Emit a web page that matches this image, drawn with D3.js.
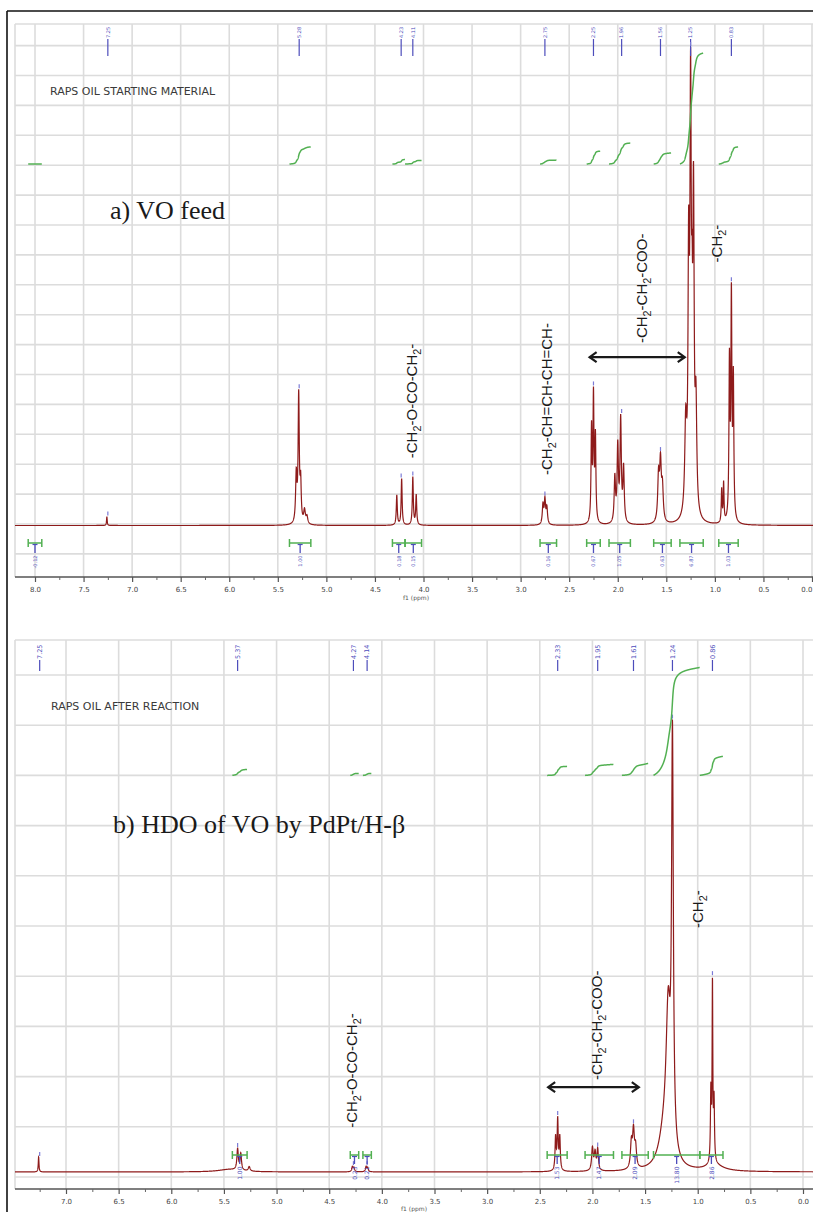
<!DOCTYPE html>
<html><head><meta charset="utf-8">
<script src="https://cdn.jsdelivr.net/npm/d3@7/dist/d3.min.js"></script>
<style>html,body{margin:0;padding:0;background:#fff;}svg{display:block;}</style>
</head><body>
<svg id="chart" width="813" height="1212"></svg>
<script>
// ---------------- data ----------------
const ticksA = [8.0,7.5,7.0,6.5,6.0,5.5,5.0,4.5,4.0,3.5,3.0,2.5,2.0,1.5,1.0,0.5,0.0];
const minorA = [7.75,7.25,6.75,6.25,5.75,5.25,4.75,4.25,3.75,3.25,2.75,2.25,1.75,1.25,0.75,0.25];
const ticksB = [7.0,6.5,6.0,5.5,5.0,4.5,4.0,3.5,3.0,2.5,2.0,1.5,1.0,0.5,0.0];
const minorB = [7.25,6.75,6.25,5.75,5.25,4.75,4.25,3.75,3.25,2.75,2.25,1.75,1.25,0.75,0.25];

// peaks: [ppm, height, half-width(ppm)]
const peaksA = [
 [7.26,0.30,0.004],
 [5.31,1.6,0.008],[5.285,4.25,0.007],[5.265,1.3,0.007],[5.225,0.45,0.01],[5.20,0.25,0.01],
 [4.275,1.0,0.006],[4.225,1.55,0.006],[4.11,1.6,0.006],[4.075,1.0,0.006],
 [2.77,0.65,0.008],[2.75,0.8,0.008],[2.73,0.55,0.008],
 [2.27,3.1,0.006],[2.25,4.15,0.006],[2.23,2.8,0.006],
 [2.03,1.5,0.008],[2.00,2.5,0.008],[1.97,3.4,0.008],[1.94,1.8,0.008],
 [1.58,1.5,0.01],[1.56,1.9,0.01],[1.54,1.1,0.01],
 [1.30,3.0,0.012],[1.27,8.0,0.008],[1.25,13.4,0.008],[1.235,4.0,0.006],[1.22,10.0,0.008],[1.195,3.5,0.01],
 [0.93,1.1,0.005],[0.91,1.3,0.005],
 [0.85,5.2,0.006],[0.83,7.3,0.006],[0.81,4.6,0.006]
];
const peaksB = [
 [7.26,0.30,0.004],
 [5.45,0.05,0.12],[5.37,0.42,0.008],[5.34,0.33,0.008],[5.26,0.09,0.01],
 [4.28,0.10,0.007],[4.265,0.08,0.007],[4.15,0.10,0.007],[4.135,0.08,0.007],
 [2.35,0.65,0.006],[2.33,1.0,0.006],[2.31,0.65,0.006],
 [2.00,0.45,0.009],[1.975,0.35,0.009],[1.95,0.42,0.008],
 [1.63,0.5,0.01],[1.61,0.72,0.01],[1.59,0.4,0.01],
 [1.32,0.6,0.06],[1.28,2.8,0.025],[1.24,8.0,0.01],
 [0.875,1.4,0.005],[0.86,3.5,0.004],[0.845,1.2,0.005],[0.84,0.12,0.1]
];

const peakLabelsA = ["7.25","5.28","4.23","4.11","2.75","2.25","1.96","1.56","1.25","0.83"];
const peakLabelsB = ["7.25","5.37","4.27","4.14","2.33","1.95","1.61","1.24","0.86"];

const intRangesA = [[8.07,7.93],[5.38,5.16],[4.32,4.19],[4.19,4.02],[2.80,2.63],[2.32,2.18],[2.09,1.87],[1.63,1.45],[1.36,1.12],[0.96,0.76]];
const intRisesA  = [0,0.57,0.15,0.12,0.13,0.43,0.70,0.37,3.71,0.57];
const intValuesA = ["-0.12","1.00","0.18","0.15","0.16","0.67","1.05","0.63","6.87","1.03"];

const intRangesB = [[5.42,5.28],[4.30,4.22],[4.18,4.10],[2.43,2.24],[2.07,1.80],[1.72,1.47],[1.42,0.98],[0.98,0.76]];
const intRisesB  = [0.12,0.04,0.04,0.18,0.22,0.24,2.15,0.38];
const intValuesB = ["1.00","0.23","0.21","1.53","1.47","2.09","13.80","2.86"];

const annotA = [["-CH_2-O-CO-CH_2-",4.07,2.2],["-CH_2-CH=CH-CH=CH-",2.68,1.64],["-CH_2-CH_2-COO-",1.70,6.05],["-CH_2-",0.93,8.75]];
const annotB = [["-CH_2-O-CO-CH_2-",4.24,0.98],["-CH_2-CH_2-COO-",1.91,1.93],["-CH_2-",0.95,4.96]];
const arrowA = [2.30,1.30,5.58];
const arrowB = [2.43,1.55,1.79];

// ---------------- drawing ----------------
const svg = d3.select("#chart");
const defs = svg.append("defs");
const BLUE = "#4d4dbb", GREEN = "#52b052", RED = "#8e1b1b", GRID = "#dcdcdc";

svg.append("line").attr("x1",7).attr("x2",7).attr("y1",11).attr("y2",1212).attr("stroke","#111").attr("stroke-width",1.6);
svg.append("line").attr("x1",7).attr("x2",813).attr("y1",11).attr("y2",11).attr("stroke","#111").attr("stroke-width",1.6);

function richText(sel, str, fs){
  const parts = str.split(/_(\d)/);
  let pend = 0;
  parts.forEach((s,i)=>{
    if(!s) return;
    const t = sel.append("tspan").text(s);
    if(i%2===1){ t.attr("font-size",fs*0.72).attr("dy",fs*0.3+pend); pend=-fs*0.3; }
    else { if(pend) t.attr("dy",pend); pend=0; }
  });
}

function drawPanel(P){
  const g = svg.append("g");
  const clipId = "clip"+P.id;
  defs.append("clipPath").attr("id",clipId).append("rect")
    .attr("x",P.left).attr("y",P.top).attr("width",P.right-P.left).attr("height",P.axisY-P.top);
  const x = P.x, y = P.y;
  // grid
  g.selectAll(null).data(P.ticks).join("line")
    .attr("x1",d=>x(d)).attr("x2",d=>x(d)).attr("y1",P.top).attr("y2",P.axisY)
    .attr("stroke",GRID).attr("stroke-width",1.6);
  g.selectAll(null).data(P.hGrid).join("line")
    .attr("x1",P.left).attr("x2",P.right).attr("y1",d=>y(d)).attr("y2",d=>y(d))
    .attr("stroke",GRID).attr("stroke-width",1.6);
  g.append("line").attr("x1",P.left).attr("x2",P.left).attr("y1",P.top).attr("y2",P.axisY).attr("stroke",GRID).attr("stroke-width",1.6);
  g.append("line").attr("x1",P.left).attr("x2",P.right).attr("y1",P.top).attr("y2",P.top).attr("stroke",GRID).attr("stroke-width",1.6);

  // axis
  g.append("line").attr("x1",P.left).attr("x2",P.right).attr("y1",P.axisY).attr("y2",P.axisY).attr("stroke","#555").attr("stroke-width",1.5);
  const ax = g.append("g").attr("transform",`translate(0,${P.axisY})`)
    .call(d3.axisBottom(x).tickValues(P.ticks).tickFormat(d3.format(".1f")).tickSize(5).tickSizeOuter(0).tickPadding(5));
  ax.select(".domain").remove();
  ax.selectAll("line").attr("stroke","#555").attr("stroke-width",1.2);
  ax.selectAll("text").attr("font-family","DejaVu Sans").attr("font-size",7).attr("fill","#444")
    .attr("text-anchor", d => (x(d) > P.right-6 ? "end" : "middle"))
    .attr("dx", d => (x(d) > P.right-6 ? (P.right - 1 - x(d)) : 0));
  const mx = g.append("g").attr("transform",`translate(0,${P.axisY})`)
    .call(d3.axisBottom(x).tickValues(P.minor).tickFormat("").tickSize(3).tickSizeOuter(0));
  mx.select(".domain").remove();
  mx.selectAll("line").attr("stroke","#666");
  g.append("text").attr("x",P.f1x).attr("y",P.f1y).attr("text-anchor","middle")
    .attr("font-family","DejaVu Sans").attr("font-size",6).attr("fill","#555").text("f1 (ppm)");

  // title
  g.append("text").attr("x",P.titleX).attr("y",P.titleY).attr("font-family","DejaVu Sans")
    .attr("font-size",11).attr("fill","#3a3a3a").text(P.title);

  // spectrum
  const f = p => P.offset + d3.sum(P.peaks, ([c,h,w]) => h*w*w/((p-c)*(p-c)+w*w));
  const dom = [x.invert(P.left), x.invert(P.right)];
  const pts = d3.range(dom[0], dom[1], -0.001).map(p=>[p,f(p)]);
  g.append("path").datum(pts).attr("clip-path",`url(#${clipId})`)
    .attr("d", d3.line().x(d=>x(d[0])).y(d=>y(d[1])))
    .attr("fill","none").attr("stroke",RED).attr("stroke-width",1.2);

  // peak labels on top + apex marks
  P.peakLabels.forEach(s=>{
    const p = +s, xx = x(p);
    g.append("line").attr("x1",xx).attr("x2",xx).attr("y1",P.plTop).attr("y2",P.plBot).attr("stroke",BLUE).attr("stroke-width",1.2);
    g.append("text").attr("transform",`translate(${xx+P.plFs*0.36},${P.plTop-1}) rotate(-90)`)
      .attr("font-family","DejaVu Sans").attr("font-size",P.plFs).attr("fill",BLUE).text(s);
    const mxv = d3.max(d3.range(p+0.012,p-0.012,-0.001), f);
    const ay = y(mxv);
    g.append("line").attr("x1",xx).attr("x2",xx).attr("y1",ay-5).attr("y2",ay-1).attr("stroke","#7b7bd6").attr("stroke-width",1.2);
  });

  // integrals
  P.intRanges.forEach(([p1,p2],i)=>{
    const ps = d3.range(p1,p2,-0.001);
    let cum = 0;
    const vals = ps.map(p=>{cum += f(p)-P.offset; return cum;});
    const tot = cum || 1;
    const rise = P.intRises[i];
    g.append("path").datum(ps.map((p,j)=>[x(p), y(P.intBase + rise*vals[j]/tot)]))
      .attr("d", d3.line()).attr("fill","none").attr("stroke",GREEN).attr("stroke-width",1.5);
    const xa = x(p1), xb = x(p2), xm = (xa+xb)/2, by = P.barY;
    g.append("line").attr("x1",xa).attr("x2",xb).attr("y1",by).attr("y2",by).attr("stroke",GREEN).attr("stroke-width",1.5);
    [xa,xb].forEach(xc=>g.append("line").attr("x1",xc).attr("x2",xc).attr("y1",by-4).attr("y2",by+4).attr("stroke",GREEN).attr("stroke-width",1.5));
    g.append("line").attr("x1",xm-2.5).attr("x2",xm+2.5).attr("y1",by+1.5).attr("y2",by+1.5).attr("stroke",BLUE).attr("stroke-width",1.2);
    g.append("line").attr("x1",xm).attr("x2",xm).attr("y1",by+1.5).attr("y2",by+P.stem).attr("stroke",BLUE).attr("stroke-width",1.3);
    g.append("text").attr("transform",`translate(${xm+P.ilFs*0.36},${by+P.stem+2.5}) rotate(-90)`)
      .attr("text-anchor","end").attr("font-family","DejaVu Sans").attr("font-size",P.ilFs).attr("fill",BLUE).text(P.intValues[i]);
  });

  // annotations
  P.annot.forEach(([s,p,v])=>{
    const t = g.append("text").attr("transform",`translate(${x(p)},${y(v)}) rotate(-90)`)
      .attr("font-family","Liberation Sans").attr("font-size",15).attr("fill","#1a1a1a");
    richText(t, s, 15);
  });
  const [a1,a2,av] = P.arrow;
  const ax1 = x(a1), ax2 = x(a2), ay = y(av);
  const ag = g.append("g").attr("stroke","#1a1a1a").attr("stroke-width",2.2).attr("fill","none");
  ag.append("line").attr("x1",ax1+1).attr("x2",ax2-1).attr("y1",ay).attr("y2",ay);
  ag.append("polyline").attr("points",`${ax1+8},${ay-5} ${ax1+1},${ay} ${ax1+8},${ay+5}`);
  ag.append("polyline").attr("points",`${ax2-8},${ay-5} ${ax2-1},${ay} ${ax2-8},${ay+5}`);

  g.append("text").attr("x",P.capX).attr("y",P.capY).attr("font-family","Liberation Serif")
    .attr("font-size",26).attr("fill","#1a1a1a").text(P.caption);
}

const yA = d3.scaleLinear().domain([0,16]).range([524,45.6]);
const yB = d3.scaleLinear().domain([0,10]).range([1177,675]);

drawPanel({
  id:"A", x:d3.scaleLinear().domain([8.0,0.0]).range([35,812]), y:yA,
  left:15, right:813, top:24, axisY:577,
  ticks:ticksA, minor:minorA, hGrid:d3.range(-1,17),
  peaks:peaksA, offset:-0.05,
  peakLabels:peakLabelsA, plTop:39, plBot:56, plFs:5,
  intRanges:intRangesA, intRises:intRisesA, intValues:intValuesA, intBase:12.04,
  barY:543, stem:10, ilFs:5,
  annot:annotA, arrow:arrowA,
  title:"RAPS OIL STARTING MATERIAL", titleX:50, titleY:95,
  caption:"a) VO feed", capX:110, capY:219,
  f1x:416, f1y:600
});
drawPanel({
  id:"B", x:d3.scaleLinear().domain([7.0,0.0]).range([66,803]), y:yB,
  left:15, right:813, top:640, axisY:1189,
  ticks:ticksB, minor:minorB, hGrid:d3.range(0,11),
  peaks:peaksB, offset:0.1,
  peakLabels:peakLabelsB, plTop:660, plBot:671, plFs:6.5,
  intRanges:intRangesB, intRises:intRisesB, intValues:intValuesB, intBase:8.0,
  barY:1155, stem:9, ilFs:6,
  annot:annotB, arrow:arrowB,
  title:"RAPS OIL AFTER REACTION", titleX:51, titleY:710,
  caption:"b) HDO of VO by PdPt/H-β", capX:113, capY:833,
  f1x:414, f1y:1211
});
</script>
</body></html>
